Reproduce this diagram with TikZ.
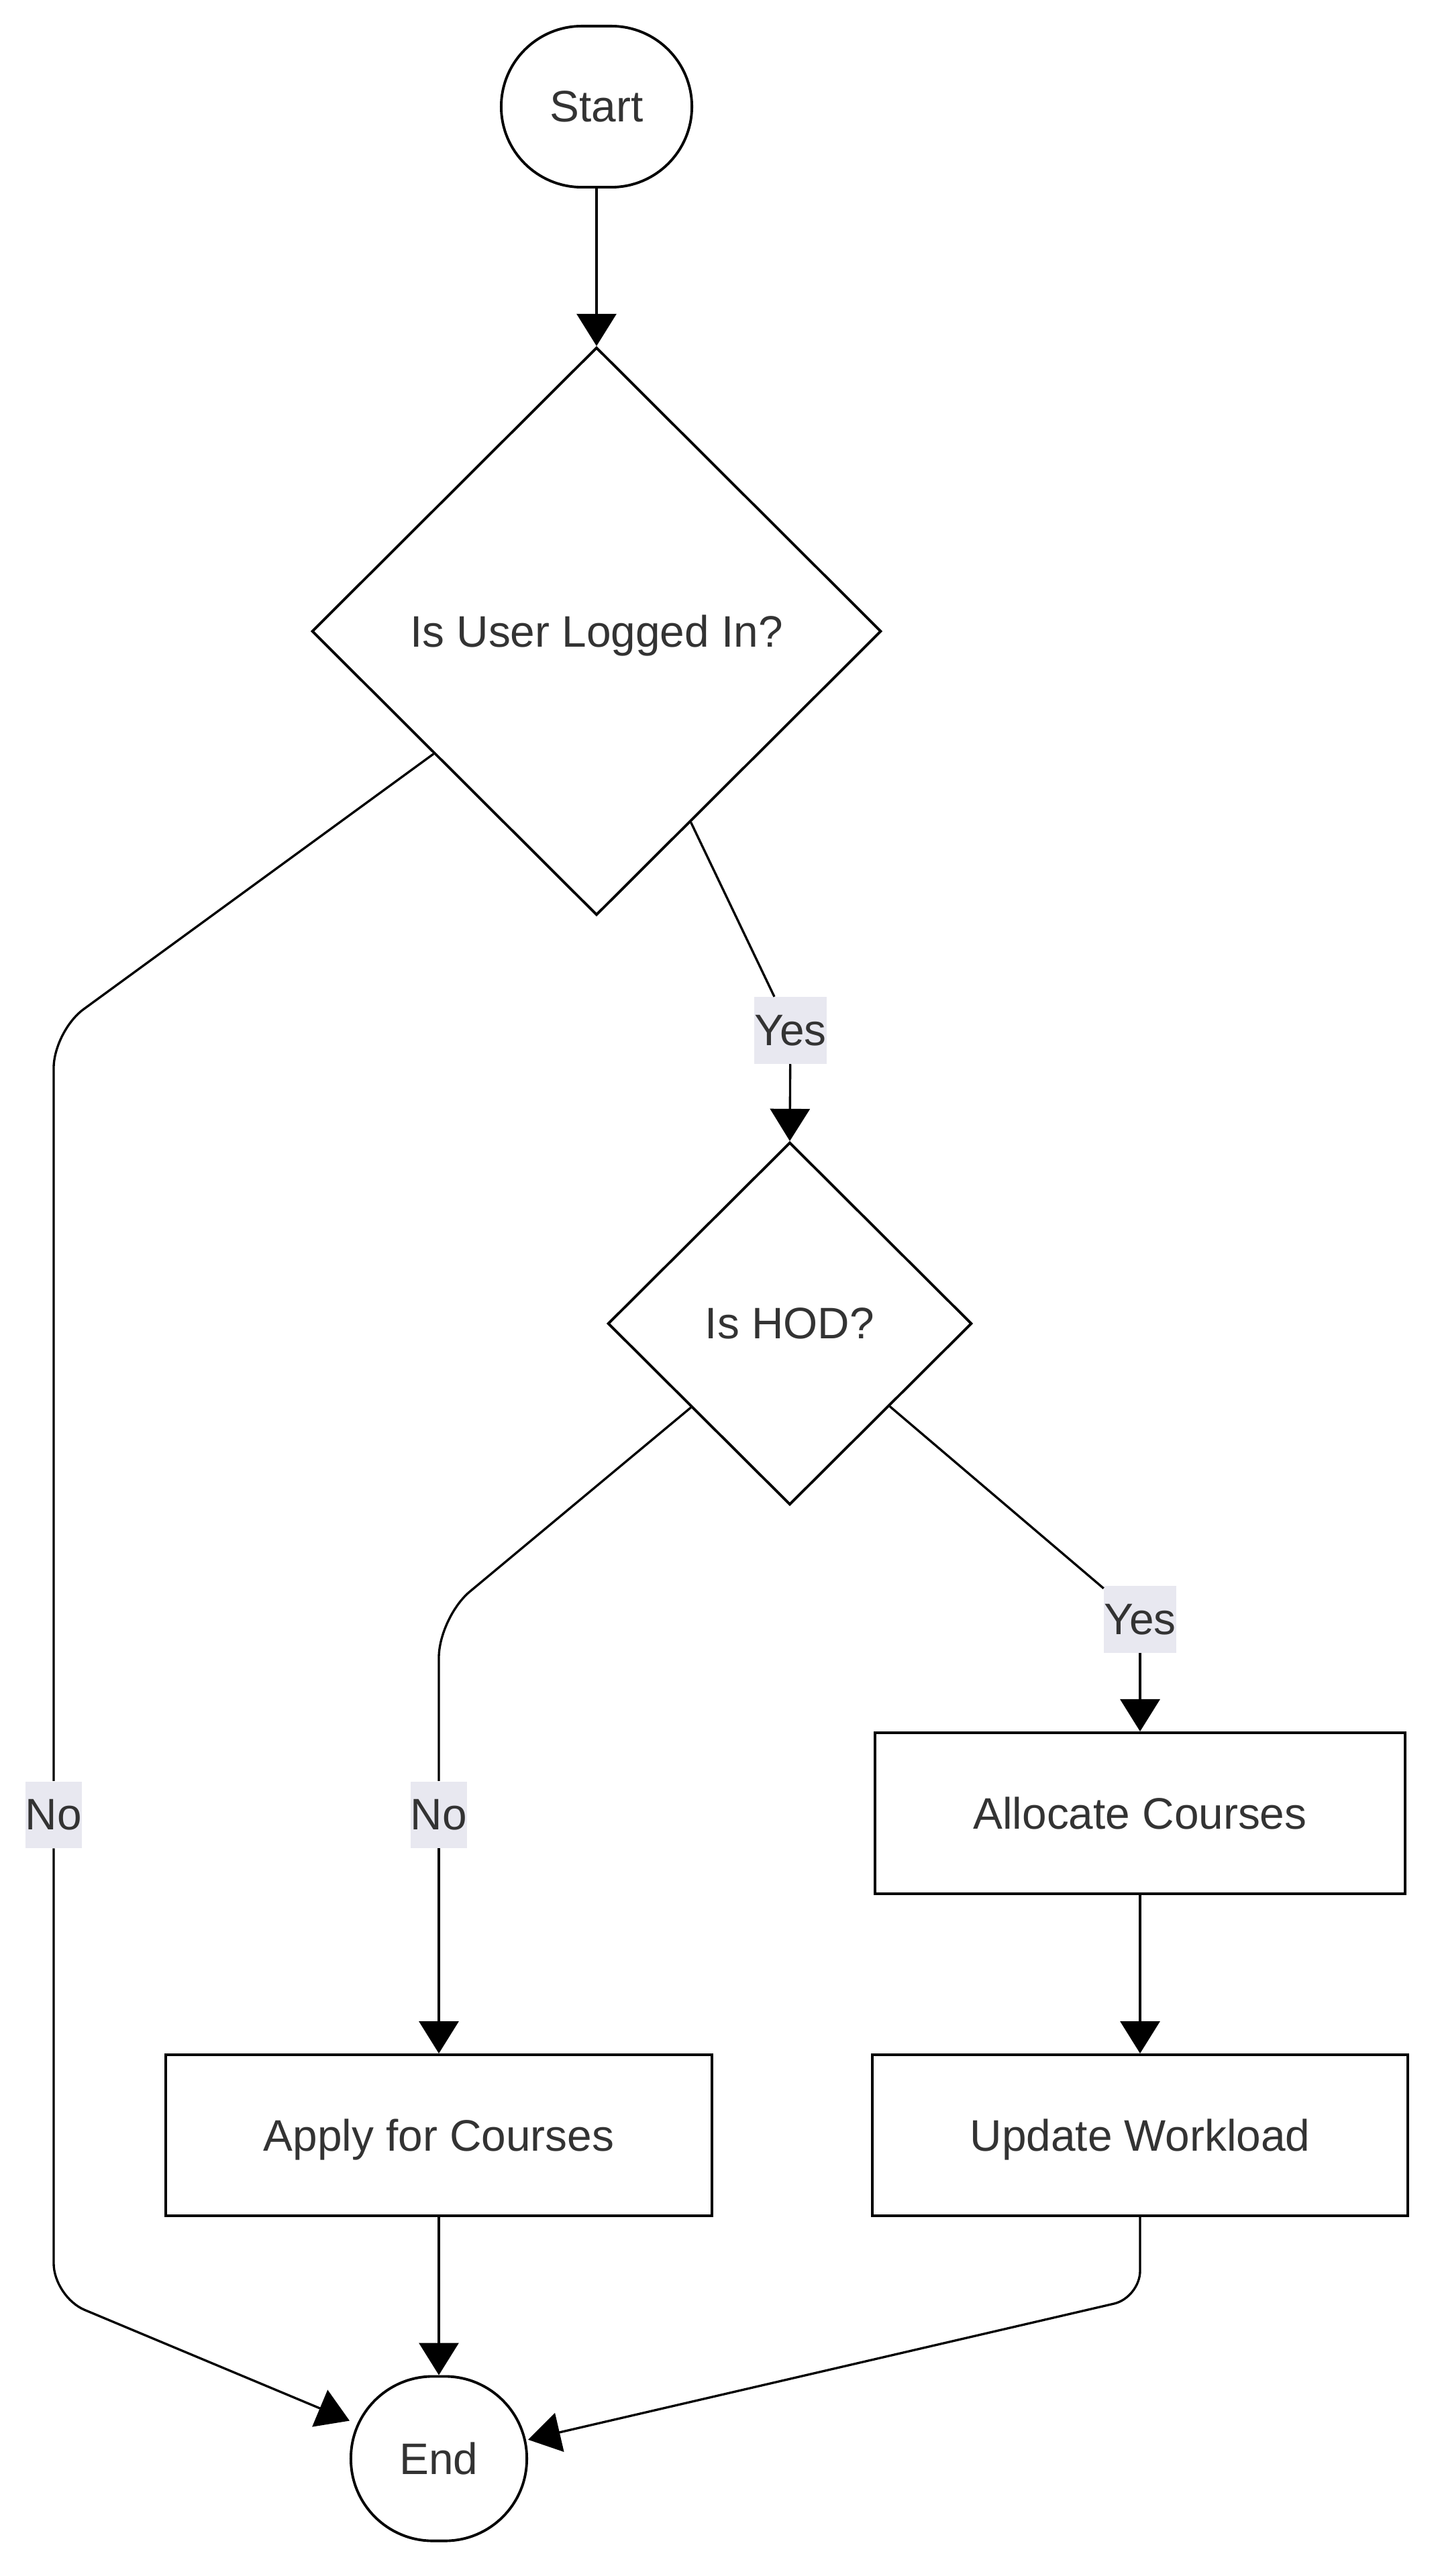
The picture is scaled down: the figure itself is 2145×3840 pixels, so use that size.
\documentclass[tikz,border=0pt]{standalone}
\usepackage{fontspec}
\setmainfont{Liberation Sans}
\usetikzlibrary{shapes.geometric,arrows.meta,calc}
\definecolor{txt}{HTML}{333333}
\definecolor{lblbg}{RGB}{232,232,240}
\begin{document}
\begin{tikzpicture}[x=0.01cm,y=-0.01cm,
  every node/.style={font=\fontsize{18.7}{22.4}\selectfont, text=txt, text depth=0pt},
  box/.style={draw=black, line width=1.1pt, fill=white, rectangle, minimum height=2.4cm, inner sep=0pt},
  term/.style={box, rounded corners=1.2cm},
  decision/.style={draw=black, line width=1.1pt, fill=white, diamond, aspect=1, inner sep=0pt},
  lbl/.style={fill=lblbg, inner xsep=0pt, inner ysep=0pt, minimum height=0.99cm},
  edge/.style={draw=black, line width=0.95pt},
  arr/.style={edge, -{Triangle[length=4.8mm,width=5.9mm]}},
]
\useasboundingbox (0,0) rectangle (2145,3840);

% nodes
\node[term, minimum width=2.84cm] (start) at (889,159) {Start};
\node[decision, minimum width=8.48cm, minimum height=8.46cm] (d1) at (889,941) {Is User Logged In?};
\node[decision, minimum width=5.42cm, minimum height=5.40cm] (d2) at (1177,1973) {Is HOD?};
\node[box, minimum width=7.89cm] (alloc) at (1699,2703) {Allocate Courses};
\node[box, minimum width=7.98cm] (upd) at (1699,3183) {Update Workload};
\node[box, minimum width=8.13cm] (apply) at (654,3183) {Apply for Courses};
\node[term, minimum width=2.62cm, minimum height=2.45cm, rounded corners=1.22cm] (endn) at (654,3665) {End};

% edge labels
\node[lbl] (lyes1) at (1178,1536) {Yes};
\node[lbl] (lyes2) at (1699,2414) {Yes};
\node[lbl] (lno1) at (80,2705) {No};
\node[lbl] (lno2) at (654,2705) {No};

% waypoints
\coordinate (c1) at (80,1537);
\coordinate (c2) at (80,3424);
\coordinate (c3) at (654,2411);
\coordinate (c4) at (1699,3425);

% edges
\draw[arr] (start.south) -- (d1.north);

\draw[edge, rounded corners=0.55cm] ($(d1.west)!0.43!(d1.south)$) -- (c1) -- (lno1);
\draw[arr, rounded corners=0.5cm] (lno1) -- (c2) -- (endn.157);

\draw[edge] ($(d1.south)!0.33!(d1.east)$) -- (lyes1);
\draw[arr] (lyes1) -- (d2.north);

\draw[edge, rounded corners=0.6cm] ($(d2.west)!0.46!(d2.south)$) -- (c3) -- (lno2);
\draw[arr] (lno2) -- (apply.north);

\draw[edge] ($(d2.south)!0.546!(d2.east)$) -- (lyes2);
\draw[arr] (lyes2) -- (alloc.north);

\draw[arr] (alloc.south) -- (upd.north);
\draw[arr] (apply.south) -- (endn.north);

\draw[arr, rounded corners=0.4cm] (upd.south) -- (c4) -- (endn.12.6);
\end{tikzpicture}
\end{document}
